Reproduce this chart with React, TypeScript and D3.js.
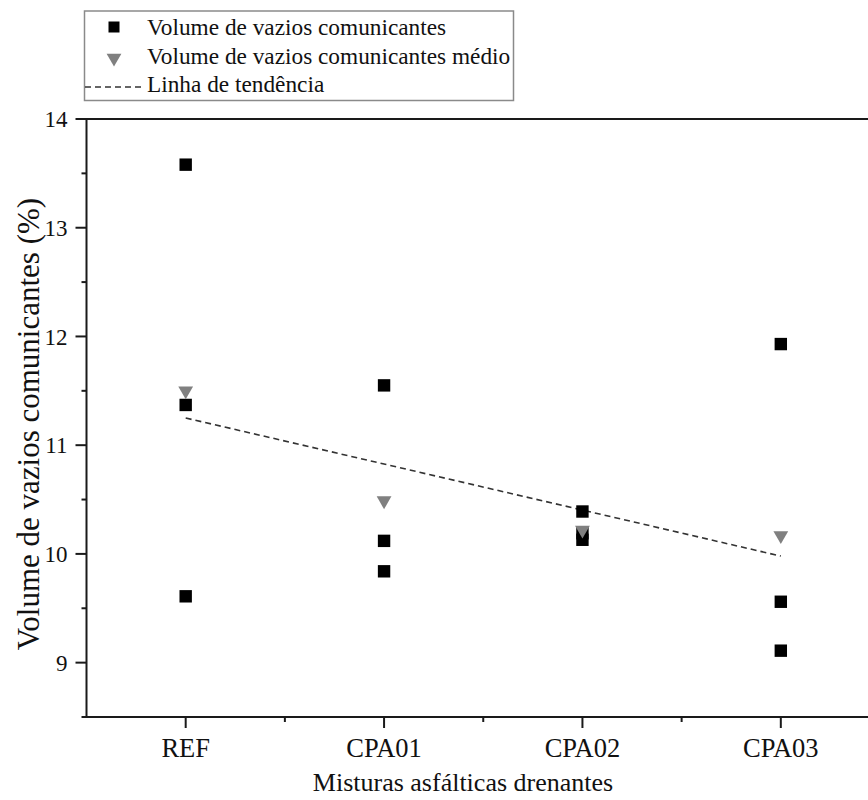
import React, { useRef, useEffect } from "react";
import * as d3 from "d3";

// categories on the x axis
const categories = ["REF", "CPA01", "CPA02", "CPA03"];

// individual measurements (%), one list per mixture
const refValues = [13.58, 11.37, 9.61];
const cpa01Values = [11.55, 10.12, 9.84];
const cpa02Values = [10.39, 10.19, 10.13];
const cpa03Values = [11.93, 9.56, 9.11];

// mean per mixture
const meanValues = [11.5, 10.49, 10.22, 10.17];

// trend line, value at first and last category
const trendValues = [11.25, 9.98];

const yTicks = [9, 10, 11, 12, 13, 14];
const yMinorTicks = [8.5, 9.5, 10.5, 11.5, 12.5, 13.5];
const xMinorTicks = [0.5, 1.5, 2.5];

const legendLabels = [
  "Volume de vazios comunicantes",
  "Volume de vazios comunicantes médio",
  "Linha de tendência",
];

const FONT = "'Liberation Serif', 'Times New Roman', serif";

const Chart = () => {
  const svgRef = useRef<SVGSVGElement>(null);

  useEffect(() => {
    const svg = d3.select(svgRef.current);
    svg.selectAll("*").remove();

    const width = 868;
    const height = 800;
    const margin = { top: 119, right: -12, bottom: 83, left: 86.5 };

    svg.attr("width", width).attr("height", height);

    const x = d3
      .scaleLinear()
      .domain([-0.5, 3.5])
      .range([margin.left, width - margin.right]);

    const y = d3
      .scaleLinear()
      .domain([8.5, 14])
      .range([height - margin.bottom, margin.top]);

    const axisColor = "#1a1a1a";
    const textColor = "#111";

    // frame: left, bottom and top lines
    svg
      .append("line")
      .attr("x1", x(-0.5))
      .attr("x2", x(-0.5))
      .attr("y1", y(14))
      .attr("y2", y(8.5))
      .attr("stroke", axisColor)
      .attr("stroke-width", 2);
    svg
      .append("line")
      .attr("x1", x(-0.5) - 1)
      .attr("x2", x(3.5))
      .attr("y1", y(8.5))
      .attr("y2", y(8.5))
      .attr("stroke", axisColor)
      .attr("stroke-width", 2);
    svg
      .append("line")
      .attr("x1", x(-0.5) - 1)
      .attr("x2", x(3.5))
      .attr("y1", y(14))
      .attr("y2", y(14))
      .attr("stroke", axisColor)
      .attr("stroke-width", 2);

    // y ticks
    svg
      .selectAll("line.ytick")
      .data(yTicks)
      .join("line")
      .attr("class", "ytick")
      .attr("x1", x(-0.5) - 11)
      .attr("x2", x(-0.5))
      .attr("y1", d => y(d))
      .attr("y2", d => y(d))
      .attr("stroke", axisColor)
      .attr("stroke-width", 2);
    svg
      .selectAll("line.yminor")
      .data(yMinorTicks)
      .join("line")
      .attr("class", "yminor")
      .attr("x1", x(-0.5) - 5)
      .attr("x2", x(-0.5))
      .attr("y1", d => y(d))
      .attr("y2", d => y(d))
      .attr("stroke", axisColor)
      .attr("stroke-width", 2);
    svg
      .selectAll("text.ylabel")
      .data(yTicks)
      .join("text")
      .attr("class", "ylabel")
      .attr("x", x(-0.5) - 19)
      .attr("y", d => y(d))
      .attr("dy", "0.35em")
      .attr("text-anchor", "end")
      .attr("fill", textColor)
      .style("font-family", FONT)
      .style("font-size", "23px")
      .text(d => d);

    // x ticks
    svg
      .selectAll("line.xtick")
      .data(categories)
      .join("line")
      .attr("class", "xtick")
      .attr("x1", (d, i) => x(i))
      .attr("x2", (d, i) => x(i))
      .attr("y1", y(8.5))
      .attr("y2", y(8.5) + 11)
      .attr("stroke", axisColor)
      .attr("stroke-width", 2);
    svg
      .selectAll("line.xminor")
      .data(xMinorTicks)
      .join("line")
      .attr("class", "xminor")
      .attr("x1", d => x(d))
      .attr("x2", d => x(d))
      .attr("y1", y(8.5))
      .attr("y2", y(8.5) + 5)
      .attr("stroke", axisColor)
      .attr("stroke-width", 2);
    svg
      .selectAll("text.xlabel")
      .data(categories)
      .join("text")
      .attr("class", "xlabel")
      .attr("x", (d, i) => x(i))
      .attr("y", 757)
      .attr("text-anchor", "middle")
      .attr("fill", textColor)
      .style("font-family", FONT)
      .style("font-size", "26.5px")
      .text(d => d);

    // axis titles
    svg
      .append("text")
      .attr("x", 463)
      .attr("y", 791)
      .attr("text-anchor", "middle")
      .attr("fill", textColor)
      .style("font-family", FONT)
      .style("font-size", "26px")
      .text("Misturas asfálticas drenantes");
    svg
      .append("text")
      .attr("transform", "translate(39,424) rotate(-90)")
      .attr("text-anchor", "middle")
      .attr("fill", textColor)
      .style("font-family", FONT)
      .style("font-size", "31px")
      .text("Volume de vazios comunicantes (%)");

    // trend line
    const trendPoints: [number, number][] = [
      [0, trendValues[0]],
      [categories.length - 1, trendValues[1]],
    ];
    svg
      .append("path")
      .attr(
        "d",
        d3
          .line<[number, number]>()
          .x(d => x(d[0]))
          .y(d => y(d[1]))(trendPoints)
      )
      .attr("fill", "none")
      .attr("stroke", "#333")
      .attr("stroke-width", 1.6)
      .attr("stroke-dasharray", "6,4");

    // measurement squares
    const points = [refValues, cpa01Values, cpa02Values, cpa03Values].flatMap(
      (vals, i) => vals.map(v => ({ i, v }))
    );
    const sq = 12.4;
    svg
      .selectAll("rect.pt")
      .data(points)
      .join("rect")
      .attr("class", "pt")
      .attr("x", d => x(d.i) - sq / 2)
      .attr("y", d => y(d.v) - sq / 2)
      .attr("width", sq)
      .attr("height", sq)
      .attr("fill", "#000");

    // mean triangles (pointing down)
    const tri = d3.symbol().type(d3.symbolTriangle).size(95);
    svg
      .selectAll("path.mean")
      .data(meanValues)
      .join("path")
      .attr("class", "mean")
      .attr("d", tri)
      .attr("transform", (d, i) => `translate(${x(i)},${y(d)}) rotate(180)`)
      .attr("fill", "#808080");

    // legend
    const lg = svg.append("g");
    lg.append("rect")
      .attr("x", 84.5)
      .attr("y", 11)
      .attr("width", 429)
      .attr("height", 89.5)
      .attr("fill", "#fff")
      .attr("stroke", "#8a8a8a")
      .attr("stroke-width", 1.5);
    lg.append("rect")
      .attr("x", 114 - 5.5)
      .attr("y", 27 - 5.5)
      .attr("width", 11)
      .attr("height", 11)
      .attr("fill", "#000");
    lg.append("path")
      .attr("d", tri)
      .attr("transform", "translate(114,58) rotate(180)")
      .attr("fill", "#808080");
    lg.append("line")
      .attr("x1", 85)
      .attr("x2", 141)
      .attr("y1", 87)
      .attr("y2", 87)
      .attr("stroke", "#333")
      .attr("stroke-width", 1.4)
      .attr("stroke-dasharray", "6,4");
    lg.selectAll("text")
      .data(legendLabels)
      .join("text")
      .attr("x", 147)
      .attr("y", (d, i) => 35 + i * 28.5)
      .attr("fill", textColor)
      .style("font-family", FONT)
      .style("font-size", "23.3px")
      .text(d => d);
  }, []);

  return <svg ref={svgRef} style={{ display: "block" }} />;
};

export default function App() {
  return (
    <div style={{ position: "absolute", left: 0, top: 0, background: "#fff" }}>
      <Chart />
    </div>
  );
}
